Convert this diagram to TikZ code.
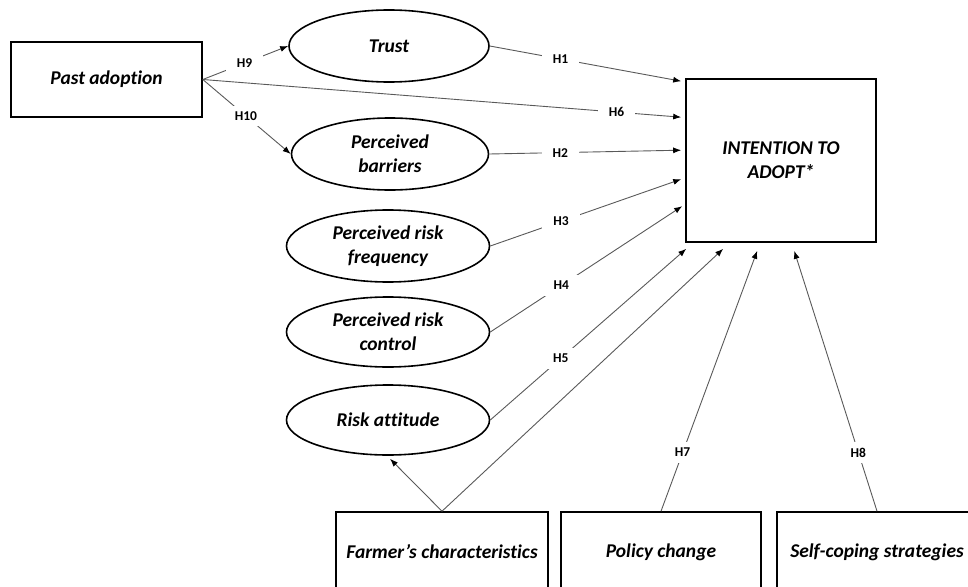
\documentclass[tikz,border=0pt]{standalone}
\usepackage{fontspec}
\setmainfont{Carlito}[Ligatures=CommonOff]
\usetikzlibrary{shapes.geometric,arrows.meta}

\tikzset{
  construct/.style={draw,line width=1.6pt,ellipse,align=center,
    font=\fontsize{19.5}{24}\selectfont\bfseries\itshape},
  factor/.style={draw,line width=1.6pt,rectangle,align=center,
    font=\fontsize{19.5}{24}\selectfont\bfseries\itshape},
  hyp/.style={fill=white,inner xsep=11pt,inner ysep=6pt,
    font=\fontsize{13.5}{15}\selectfont\bfseries},
  link/.style={draw=black!65,line width=0.9pt,
    -{Latex[length=8pt,width=6pt,color=black]}}
}

\begin{document}
\begin{tikzpicture}[x=1pt,y=-1pt]
  \useasboundingbox (0,0) rectangle (968,586);
  \clip (0,0) rectangle (968,586);
  % constructs and factors
  \node[factor,minimum width=191,minimum height=75] (past) at (106.5,79.5) {Past adoption};
  \node[construct,minimum width=200,minimum height=72] (trust) at (389,46) {Trust};
  \node[construct,minimum width=197,minimum height=72] (barr) at (390,154) {Perceived\\barriers};
  \node[construct,minimum width=203,minimum height=72] (freq) at (388,246) {Perceived risk\\frequency};
  \node[construct,minimum width=203,minimum height=70] (ctrl) at (388,332) {Perceived risk\\control};
  \node[construct,minimum width=203,minimum height=70] (att) at (388,420) {Risk attitude};
  \node[factor,minimum width=190,minimum height=163] (intent) at (781,160.5) {INTENTION TO\\ADOPT*};
  \node[factor,minimum width=212,minimum height=80] (farm) at (442,552) {Farmer’s characteristics};
  \node[factor,minimum width=200,minimum height=80] (policy) at (661,552) {Policy change};
  \node[factor,minimum width=200,minimum height=80] (self) at (877,552) {Self-coping strategies};
  % hypotheses
  \begin{scope}
    \draw[link] (past.east) -- node[hyp,pos=.49] {H9} (trust.west);
    \draw[link] (past.east) -- node[hyp,pos=.49] {H10} (barr.west);
    \draw[link] (past.east) -- node[hyp,pos=.865] {H6} ([xshift=-4pt,yshift=-39pt]intent.north west);
    \draw[link] (trust.east) -- node[hyp,pos=.37] {H1} ([xshift=-4pt,yshift=-3pt]intent.north west);
    \draw[link] (barr.east) -- node[hyp,pos=.37] {H2} ([xshift=-4pt,yshift=-72pt]intent.north west);
    \draw[link] (freq.east) -- node[hyp,pos=.37] {H3} ([xshift=-4pt,yshift=-101pt]intent.north west);
    \draw[link] (ctrl.east) -- node[hyp,pos=.37] {H4} ([xshift=-3pt,yshift=-128pt]intent.north west);
    \draw[link] (att.east) -- node[hyp,pos=.36] {H5} ([xshift=1pt,yshift=-6pt]intent.south west);
    \draw[link] (farm.north) -- ([xshift=38pt,yshift=-6pt]intent.south west);
    \draw[link] (farm.north) -- ([xshift=2pt,yshift=-3pt]att.south);
    \draw[link] (policy.north) -- node[hyp,pos=.225] {H7} ([xshift=72pt,yshift=-8pt]intent.south west);
    \draw[link] (self.north) -- node[hyp,pos=.225] {H8} ([xshift=109pt,yshift=-8pt]intent.south west);
  \end{scope}
\end{tikzpicture}
\end{document}
